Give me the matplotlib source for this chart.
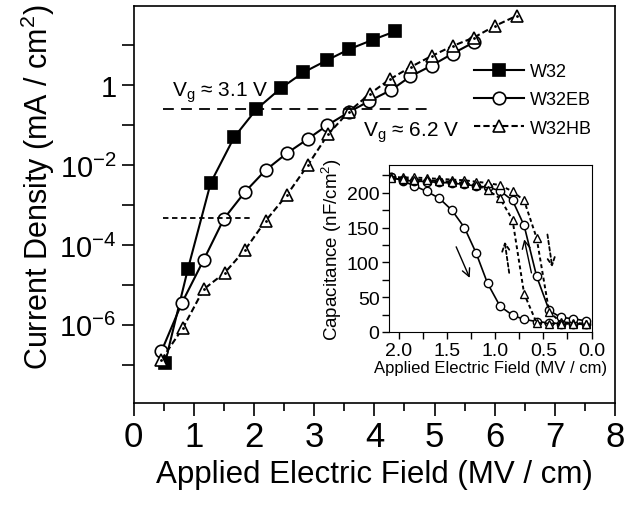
import numpy as np
import matplotlib
matplotlib.use("Agg")
import matplotlib.pyplot as plt
from matplotlib.ticker import FixedLocator, FuncFormatter, MultipleLocator

plt.rcParams['font.family'] = ['Liberation Sans', 'DejaVu Sans']
plt.rcParams['mathtext.fontset'] = 'custom'
plt.rcParams['mathtext.rm'] = 'Liberation Sans'
plt.rcParams['mathtext.it'] = 'Liberation Sans'

# J-E data (x in MV/cm, y as log10 of mA/cm^2)
w32_x = [0.52, 0.90, 1.28, 1.67, 2.04, 2.45, 2.82, 3.22, 3.58, 3.98, 4.35]
w32_log = [-6.95, -4.60, -2.44, -1.30, -0.60, -0.07, 0.32, 0.63, 0.90, 1.14, 1.35]

eb_x = [0.46, 0.80, 1.16, 1.50, 1.85, 2.19, 2.54, 2.89, 3.22, 3.57, 3.91, 4.28, 4.60, 4.95, 5.30, 5.65]
eb_log = [-6.66, -5.45, -4.38, -3.34, -2.67, -2.13, -1.71, -1.35, -1.00, -0.68, -0.40, -0.12, 0.22, 0.49, 0.79, 1.07]

hb_x = [0.46, 0.82, 1.16, 1.51, 1.85, 2.19, 2.55, 2.89, 3.23, 3.57, 3.92, 4.26, 4.61, 4.95, 5.30, 5.65, 6.00, 6.37]
hb_log = [-6.87, -6.07, -5.11, -4.70, -4.12, -3.40, -2.74, -2.01, -1.23, -0.67, -0.22, 0.15, 0.46, 0.73, 0.98, 1.19, 1.48, 1.74]

# C-E inset data (x in MV/cm, y in nF/cm^2)
cv_x = [2.08, 1.96, 1.84, 1.71, 1.58, 1.45, 1.32, 1.20, 1.08, 0.95, 0.82, 0.70, 0.57, 0.44, 0.32, 0.19, 0.06]
eb_down = [223, 217, 210, 202, 192, 175, 150, 114, 70, 37, 24, 18, 15, 13, 12, 12, 11]
eb_up = [222, 218, 217, 216, 215, 214, 212, 210, 208, 203, 189, 153, 80, 31, 21, 19, 16]
hb_down = [223, 222, 222, 221, 220, 219, 218, 216, 214, 211, 202, 189, 135, 29, 14, 13, 12]
hb_up = [221, 220, 219, 218, 217, 216, 214, 211, 204, 192, 161, 55, 13, 12, 12, 12, 11]

vg1_level = 10 ** -0.60
vg2_level = 10 ** -3.33

fig = plt.figure(figsize=(6.34, 5.06), dpi=100)
ax = fig.add_axes([0.211, 0.202, 0.759, 0.784])

mk = dict(markersize=9, markeredgewidth=1.2, color='black')
ax.plot(w32_x, 10 ** np.array(w32_log), '-', marker='s', lw=1.5, mfc='black', label='W32', **mk)
ax.plot(eb_x, 10 ** np.array(eb_log), '-', marker='o', lw=1.5, mfc='white', label='W32EB', **mk)
ax.plot(hb_x, 10 ** np.array(hb_log), linestyle=(0, (3, 1.5)), marker='^', lw=1.5, mfc='white', label='W32HB', **mk)
ax.plot(hb_x, 10 ** np.array(hb_log), '.', color='black', markersize=2)

ax.hlines(vg1_level, 0.49, 4.93, colors='black', linestyles=(0, (6, 4)), lw=1.3)
ax.hlines(vg2_level, 0.49, 1.96, colors='black', linestyles=(0, (3, 2)), lw=1.3)
ax.text(0.63, 10 ** -0.27, r'V$_\mathregular{g}$ ≈ 3.1 V', fontsize=15, va='baseline', ha='left')
ax.text(3.81, 10 ** -1.27, r'V$_\mathregular{g}$ ≈ 6.2 V', fontsize=15, va='baseline', ha='left')

ax.set_yscale('log')
ax.set_xlim(0, 8)
ax.set_ylim(10 ** -7.95, 10 ** 1.98)
ax.xaxis.set_major_locator(MultipleLocator(1))
ax.xaxis.set_minor_locator(MultipleLocator(0.5))
ax.yaxis.set_major_locator(FixedLocator([10.0 ** k for k in range(-7, 2)]))
ax.yaxis.set_minor_locator(FixedLocator([]))


def ylab(v, pos):
    k = int(round(np.log10(v)))
    if k % 2:
        return ''
    if k == 0:
        return '1'
    return r'$\mathregular{10^{%d}}$' % k


ax.yaxis.set_major_formatter(FuncFormatter(ylab))
ax.tick_params(which='both', direction='out', width=1.2)
ax.tick_params(axis='x', labelsize=25)
ax.tick_params(axis='y', labelsize=21)
ax.tick_params(which='major', length=9)
ax.tick_params(which='minor', length=6)
ax.set_xlabel('Applied Electric Field (MV / cm)', fontsize=22.5, labelpad=4)
ax.set_ylabel(r'Current Density (mA / cm$\mathregular{^2}$)', fontsize=22)
ax.yaxis.set_label_coords(-0.16, 0.545)
for s in ax.spines.values():
    s.set_linewidth(1.2)

ax.legend(loc='upper left', bbox_to_anchor=(0.727, 0.898), bbox_transform=fig.transFigure,
          frameon=False, fontsize=13, handlelength=2.8, handletextpad=0.3,
          labelspacing=0.62, borderpad=0.2)

# inset C-E
ins = fig.add_axes([0.614, 0.342, 0.319, 0.330])
ms = dict(markersize=6, markeredgewidth=1.0, color='black', mfc='white')
ins.plot(cv_x, eb_down, '-', marker='o', lw=1.2, **ms)
ins.plot(cv_x, eb_up, '-', marker='o', lw=1.2, **ms)
ins.plot(cv_x, hb_down, linestyle=(0, (2, 1.5)), marker='^', lw=1.4, **ms)
ins.plot(cv_x, hb_up, linestyle=(0, (2, 1.5)), marker='^', lw=1.4, **ms)

ins.annotate('', xy=(1.253, 74), xytext=(1.417, 126),
             arrowprops=dict(arrowstyle='->', lw=1.0, color='black', mutation_scale=14))
ins.annotate('', xy=(0.705, 137), xytext=(0.618, 81),
             arrowprops=dict(arrowstyle='->', lw=1.0, color='black', mutation_scale=14))
ins.annotate('', xy=(0.906, 134), xytext=(0.851, 81),
             arrowprops=dict(arrowstyle='->', lw=1.3, ls=(0, (2, 1.5)), color='black', mutation_scale=14))
ins.annotate('', xy=(0.403, 89), xytext=(0.462, 144),
             arrowprops=dict(arrowstyle='->', lw=1.3, ls=(0, (2, 1.5)), color='black', mutation_scale=14))

ins.set_xlim(2.1, 0.0)
ins.set_ylim(0, 240)
ins.xaxis.set_major_locator(MultipleLocator(0.5))
ins.xaxis.set_minor_locator(MultipleLocator(0.25))
ins.yaxis.set_major_locator(MultipleLocator(50))
ins.yaxis.set_minor_locator(MultipleLocator(25))
ins.xaxis.set_major_formatter(FuncFormatter(lambda v, p: '%.1f' % v))
ins.tick_params(which='both', direction='out', labelsize=14, width=1.0, length=5, pad=2)
ins.set_xlabel('Applied Electric Field (MV / cm)', fontsize=12, labelpad=1)
ins.set_ylabel(r'Capacitance (nF/cm$\mathregular{^2}$)', fontsize=13.5, labelpad=2)

fig.savefig('out.png', dpi=100)
